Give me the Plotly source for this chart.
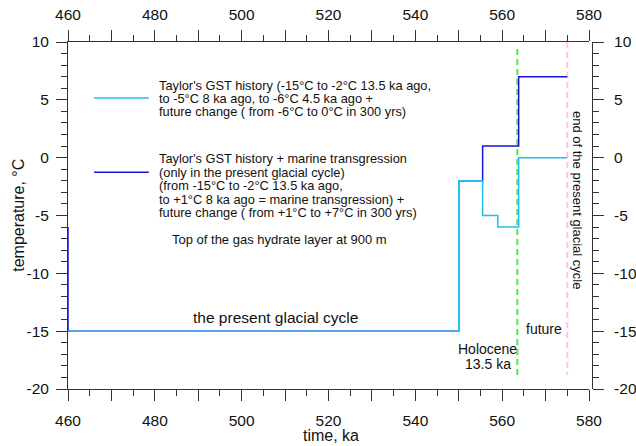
import plotly.graph_objects as go

# ---- data ----
t_taylor = [460, 550, 555.5, 559, 563.8, 575]
T_taylor = [-15, -2, -5, -6, 0, 0]

t_marine = [460, 460, 550, 555.5, 563.8, 575]
T_marine = [-6, -15, -2, 1, 7, 7]

holocene_t = 563.5
end_cycle_t = 575
holocene_span = [9.4, -19.1]
end_span = [10, -18.8]

x_ticks = list(range(460, 581, 10))
x_ticktext = [str(v) if (v - 460) % 20 == 0 else "" for v in x_ticks]
y_ticks = list(range(-20, 11, 5))
y_ticktext = [str(v) for v in y_ticks]

legend1 = ["Taylor's GST history (-15°C to -2°C 13.5 ka ago,",
           "to -5°C 8 ka ago, to -6°C 4.5 ka ago +",
           "future change ( from -6°C to 0°C in 300 yrs)"]
legend2 = ["Taylor's GST history + marine transgression",
           "(only in the present glacial cycle)",
           "(from -15°C to -2°C 13.5 ka ago,",
           "to +1°C 8 ka ago = marine transgression) +",
           "future change ( from +1°C to +7°C in 300 yrs)"]

LIGHT = "#22bcf0"
DARK = "#1414d8"
FONT = "Arial, Liberation Sans, sans-serif"
AX = "#333333"

fig = go.Figure()
fig.add_trace(go.Scatter(x=[holocene_t, holocene_t], y=holocene_span, mode="lines",
                         line=dict(color="#50e850", width=2, dash="6px,4px"),
                         hoverinfo="skip", showlegend=False))
fig.add_trace(go.Scatter(x=[end_cycle_t, end_cycle_t], y=end_span, mode="lines",
                         line=dict(color="#ffc4e0", width=2, dash="6px,4px"),
                         hoverinfo="skip", showlegend=False))
fig.add_trace(go.Scatter(x=t_marine, y=T_marine, mode="lines", line_shape="hv",
                         line=dict(color=DARK, width=1.5), showlegend=False))
fig.add_trace(go.Scatter(x=t_taylor, y=T_taylor, mode="lines", line_shape="hv",
                         line=dict(color=LIGHT, width=1.5), showlegend=False))
# helper invisible traces for the mirrored axes
fig.add_trace(go.Scatter(x=[470], y=[0], xaxis="x2", yaxis="y", mode="markers",
                         marker=dict(opacity=0), hoverinfo="skip", showlegend=False))
fig.add_trace(go.Scatter(x=[470], y=[0], xaxis="x", yaxis="y2", mode="markers",
                         marker=dict(opacity=0), hoverinfo="skip", showlegend=False))

tickfont = dict(family=FONT, size=15.5, color="#111")
xcommon = dict(range=[460, 580], tickmode="array", tickvals=x_ticks, ticktext=x_ticktext,
               ticks="outside", ticklen=11, tickwidth=1, tickcolor=AX, automargin=False,
               showline=True, linecolor=AX, linewidth=1, showgrid=False, zeroline=False,
               tickfont=tickfont,
               minor=dict(tickmode="linear", tick0=460, dtick=5, ticks="outside",
                          ticklen=6, tickcolor=AX, showgrid=False))
ycommon = dict(range=[-20, 10], tickmode="array", tickvals=y_ticks, ticktext=y_ticktext,
               ticks="outside", ticklen=11, tickwidth=1, tickcolor=AX, automargin=False,
               showline=True, linecolor=AX, linewidth=1, showgrid=False, zeroline=False,
               tickfont=tickfont,
               minor=dict(tickmode="linear", tick0=-20, dtick=1, ticks="outside",
                          ticklen=6, tickcolor=AX, showgrid=False))

fig.update_layout(
    width=636, height=446,
    margin=dict(l=68, r=47, t=42, b=57, autoexpand=False),
    paper_bgcolor="white", plot_bgcolor="white",
    font=dict(family=FONT, color="#111"),
    xaxis=dict(**xcommon, side="bottom", ticklabelstandoff=6),
    xaxis2=dict(**xcommon, side="top", overlaying="x", anchor="y", ticklabelstandoff=4),
    yaxis=dict(**ycommon, side="left", ticklabelstandoff=4),
    yaxis2=dict(**ycommon, side="right", overlaying="y", anchor="free", position=1,
                shift=3, autoshift=False, ticklabelstandoff=7),
    showlegend=False,
)

ann = []
def txt(x, y, s, size, xanchor="center", angle=0, xref="x", yref="y"):
    ann.append(dict(x=x, y=y, xref=xref, yref=yref, text=s, showarrow=False,
                    xanchor=xanchor, yanchor="middle", textangle=angle,
                    font=dict(family=FONT, size=size, color="#111")))

# legend entries
leg1_y = [6.26, 5.11, 3.95]
for s, y in zip(legend1, leg1_y):
    txt(480.5, y, s, 12.8, xanchor="left")
leg2_y = [-0.10, -1.27, -2.43, -3.60, -4.77]
for s, y in zip(legend2, leg2_y):
    txt(480.5, y, s, 12.8, xanchor="left")

fig.add_shape(type="line", x0=466.0, x1=478.6, y0=5.16, y1=5.16, xref="x", yref="y",
              line=dict(color=LIGHT, width=1.5))
fig.add_shape(type="line", x0=466.0, x1=478.6, y0=-1.27, y1=-1.27, xref="x", yref="y",
              line=dict(color=DARK, width=1.5))

txt(508.8, -7.06, "Top of the gas hydrate layer at 900 m", 13)
txt(507.8, -13.84, "the present glacial cycle", 15.5)
txt(556.7, -16.5, "Holocene", 14)
txt(556.8, -17.8, "13.5 ka", 14)
txt(569.7, -14.84, "future", 14)
txt(577.2, -3.73, "end of the present glacial cycle", 13, angle=90)

# axis titles
txt(-0.0954, 0.5, "temperature, °C", 16, angle=-90, xref="paper", yref="paper")
txt(0.504, -0.135, "time, ka", 16, xref="paper", yref="paper")

fig.update_layout(annotations=ann)
fig.write_html("out.html")
